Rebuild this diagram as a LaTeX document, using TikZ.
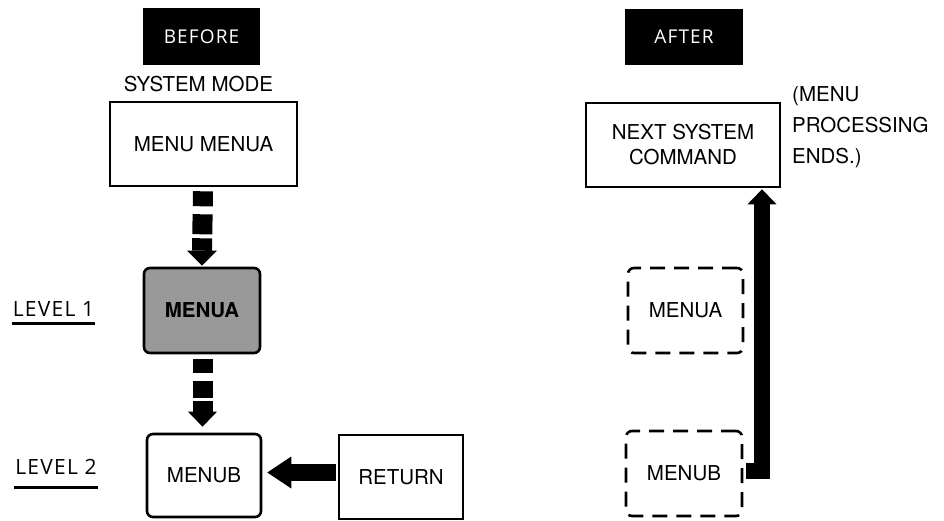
\documentclass[tikz,border=0pt]{standalone}
\usepackage{fontspec}
\setmainfont{TeX Gyre Heros}
\newfontfamily\lightfont[LetterSpace=6]{Open Sans}
\usetikzlibrary{calc}

\tikzset{
  boxtext/.style={font=\fontsize{20.5}{25}\selectfont},
  sqbox/.style={boxtext, draw, line width=2.6pt, rectangle, inner sep=0pt, align=center},
  rndbox/.style={sqbox, rounded corners=6pt},
  ghostbox/.style={rndbox, dash pattern=on 15pt off 9pt},
  tagbox/.style={fill=black, text=white, inner sep=0pt,
    font=\lightfont\fontsize{19}{21}\selectfont},
  levellabel/.style={font=\lightfont\fontsize{21}{23}\selectfont, inner xsep=1pt},
  underline/.style={line width=2.8pt},
  fatarrow/.style={line width=20pt},
}

\begin{document}
\begin{tikzpicture}[x=1pt,y=-1pt]
\useasboundingbox (0,0) rectangle (944,521);

% ---------- left column: before ----------
\node[tagbox, minimum width=117pt, minimum height=57pt] (before) at (201.5,36.5) {BEFORE};
\node[boxtext] (sysmode) at (198.5,84.5) {SYSTEM MODE};
\node[sqbox, minimum width=187pt, minimum height=84pt] (mm) at (203.5,144) {MENU MENUA};
\node[rndbox, fill=black!40, font=\bfseries\fontsize{20.5}{25}\selectfont,
      minimum width=116pt, minimum height=85pt] (ma) at (202,310.5) {MENUA};
\node[rndbox, minimum width=114pt, minimum height=83pt] (mb) at (204,475.5) {MENUB};
\node[sqbox, minimum width=124pt, minimum height=84pt] (ret) at (401,477) {RETURN};

% level labels with underlines
\node[levellabel, inner ysep=6pt] (l1) at (53.5,309.5) {LEVEL\ 1};
\draw[underline] (l1.south west) -- (l1.south east);
\node[levellabel, inner ysep=13pt] (l2) at (56,467) {LEVEL\ 2};
\draw[underline] (l2.south west) -- (l2.south east);

% broken arrow: MENU MENUA -> MENUA
\draw[fatarrow, dash pattern=on 15pt off 8pt on 20pt off 4pt on 15pt]
  ($(mm.south)+(-0.5,4)$) -- ($(ma.north)+(0,-16)$);
\fill ($(ma.north)+(0,-1)$) -- ++(-15,-15) -- ++(30,0) -- cycle;

% broken arrow: MENUA -> MENUB
\draw[fatarrow, dash pattern=on 14pt off 8pt on 17pt off 3pt on 13pt]
  ($(ma.south)+(0.5,5)$) -- ($(mb.north)+(-1.5,-21)$);
\fill ($(mb.north)+(-1.5,-6)$) -- ++(-14.5,-15) -- ++(29,0) -- cycle;

% solid arrow: RETURN -> MENUB
\draw[line width=17pt] ($(ret.west)+(-2,-4.5)$) -- ($(mb.east)+(29,-3)$);
\fill ($(mb.east)+(5,-3)$) -- ++(24,-16) -- ++(0,32) -- cycle;

% ---------- right column: after ----------
\node[tagbox, minimum width=118pt, minimum height=56pt] (after) at (684,37) {AFTER};
\node[sqbox, minimum width=194pt, minimum height=84pt] (nsc) at (683,145)
  {NEXT SYSTEM\\COMMAND};
\node[boxtext, align=left, anchor=west, inner sep=0pt,
      font=\fontsize{20.5}{31}\selectfont] (note) at (792,127)
  {(MENU\\PROCESSING\\ENDS.)};
\node[ghostbox, minimum width=115pt, minimum height=85pt] (dma) at (685.5,310.5) {MENUA};
\node[ghostbox, minimum width=116pt, minimum height=85pt] (dmb) at (684,473.5) {MENUB};

% return path: MENUB -> NEXT SYSTEM COMMAND
\coordinate (bend) at (762,470.5);
\draw[line width=16pt, line join=miter]
  ($(dmb.east)+(3,-3)$) -- (bend) -- ($(bend |- nsc.south)+(0,16)$);
\fill ($(bend |- nsc.south)+(0,1)$) -- ++(-14.5,15) -- ++(29,0) -- cycle;
\end{tikzpicture}
\end{document}
